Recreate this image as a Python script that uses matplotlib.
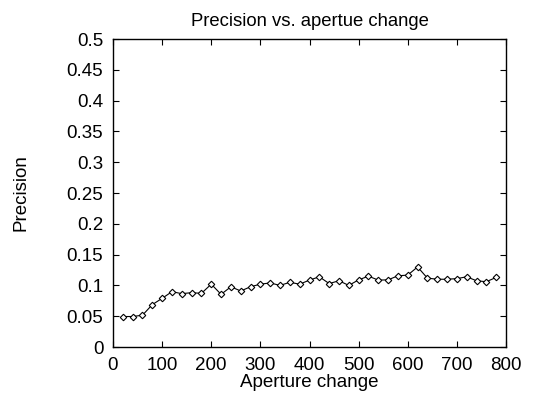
import matplotlib
matplotlib.use("Agg")
import matplotlib.pyplot as plt

plt.rcParams['font.family'] = ['Liberation Sans', 'DejaVu Sans']

# aperture change (x) and precision (y)
aperture = [20, 40, 60, 80, 100, 120, 140, 160, 180, 200,
            220, 240, 260, 280, 300, 320, 340, 360, 380, 400,
            420, 440, 460, 480, 500, 520, 540, 560, 580, 600,
            620, 640, 660, 680, 700, 720, 740, 760, 780]
precision = [0.0495, 0.0495, 0.0516, 0.0688, 0.079, 0.0898, 0.0866, 0.0882, 0.0871, 0.102,
             0.0855, 0.0978, 0.0909, 0.0978, 0.102, 0.104, 0.100, 0.105, 0.102, 0.1086,
             0.114, 0.103, 0.1075, 0.100, 0.109, 0.115, 0.1086, 0.109, 0.1156, 0.1167,
             0.130, 0.1118, 0.110, 0.110, 0.111, 0.114, 0.1075, 0.106, 0.113]

x_ticks = [0, 100, 200, 300, 400, 500, 600, 700, 800]
y_ticks = [0, 0.05, 0.1, 0.15, 0.2, 0.25, 0.3, 0.35, 0.4, 0.45, 0.5]
y_ticklabels = ['0', '0.05', '0.1', '0.15', '0.2', '0.25', '0.3', '0.35', '0.4', '0.45', '0.5']

fig = plt.figure(figsize=(5.39, 3.93), dpi=100)
ax = fig.add_axes([113 / 539, 46 / 393, 393 / 539, 308 / 393])

ax.plot(aperture, precision, color='black', linewidth=0.8,
        marker='D', markersize=3.3, markerfacecolor='white',
        markeredgecolor='black', markeredgewidth=0.8)

ax.set_xlim(0, 800)
ax.set_ylim(0, 0.5)
ax.set_xticks(x_ticks)
ax.set_yticks(y_ticks)
ax.set_yticklabels(y_ticklabels)
ax.tick_params(direction='in', length=4, width=0.8, top=True, right=True,
               labelsize=13.5, pad=7, colors='black')
for s in ax.spines.values():
    s.set_linewidth(1.0)

ax.set_title('Precision vs. apertue change', fontsize=13.3, pad=9)
ax.set_xlabel('Aperture change', fontsize=13.5, labelpad=0)
ax.set_ylabel('Precision', fontsize=13.5, labelpad=27)

fig.savefig('out.png', dpi=100)
